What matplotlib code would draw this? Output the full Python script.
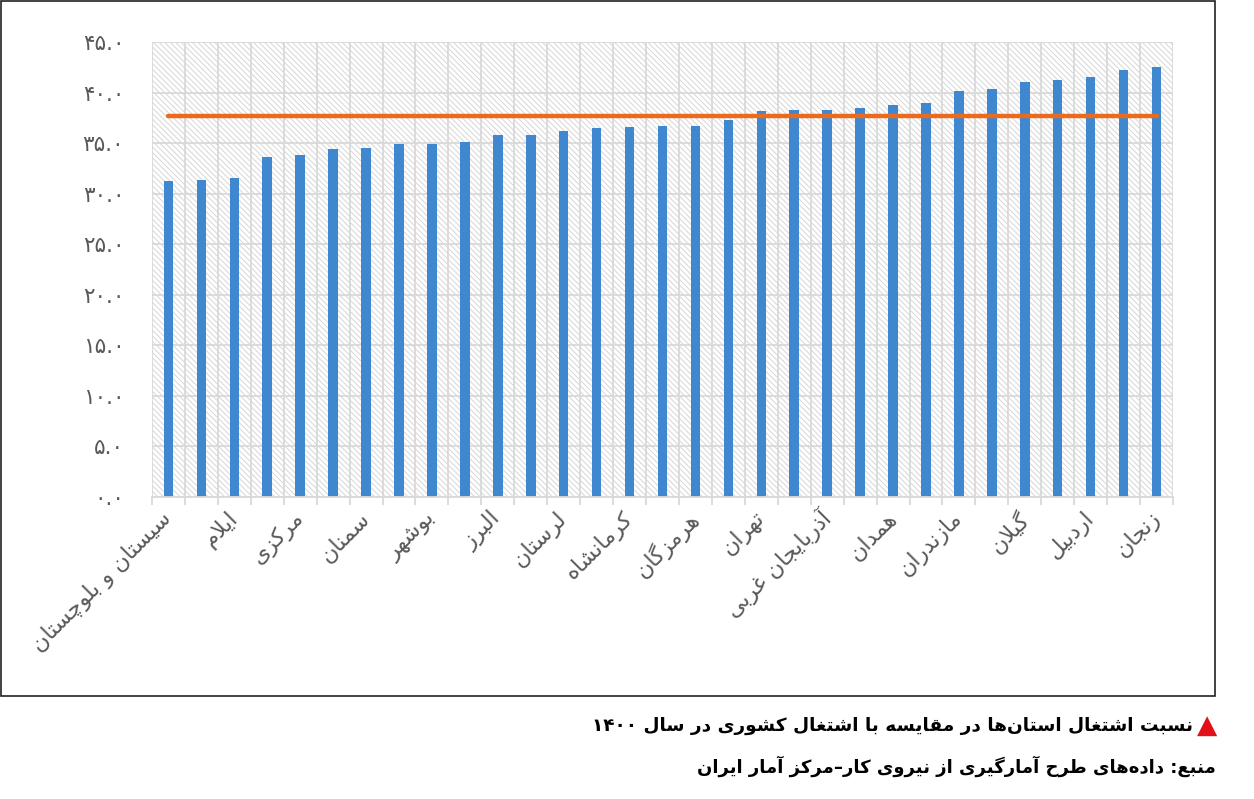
import re
import numpy as np
import matplotlib as mpl
mpl.use('Agg')
import matplotlib.pyplot as plt
from matplotlib.patches import Rectangle

# employment ratio by province (1400), sorted ascending; only every other bar is labelled in the source
provinces = ['سیستان و بلوچستان', '', 'ایلام', '', 'مرکزی', '', 'سمنان', '', 'بوشهر', '',
             'البرز', '', 'لرستان', '', 'کرمانشاه', '', 'هرمزگان', '', 'تهران', '',
             'آذربایجان غربی', '', 'همدان', '', 'مازندران', '', 'گیلان', '', 'اردبیل', '',
             'زنجان']
values = [31.3, 31.4, 31.6, 33.6, 33.8, 34.4, 34.5, 34.9, 34.9, 35.1,
          35.8, 35.8, 36.2, 36.5, 36.6, 36.7, 36.7, 37.3, 38.2, 38.3,
          38.3, 38.5, 38.8, 39.0, 40.2, 40.4, 41.0, 41.2, 41.5, 42.2,
          42.5]
national = 37.7
yticks = [0, 5, 10, 15, 20, 25, 30, 35, 40, 45]

title = 'نسبت اشتغال استان\u200cها در مقایسه با اشتغال کشوری در سال ۱۴۰۰'
source = 'منبع: داده\u200cهای طرح آمارگیری از نیروی کار–مرکز آمار ایران'

# matplotlib 3.10 does no arabic shaping, so map letters to presentation forms by hand
FORMS = {
    'ا': ('\uFE8D', '\uFE8E', None, None), 'آ': ('\uFE81', '\uFE82', None, None),
    'ب': ('\uFE8F', '\uFE90', '\uFE91', '\uFE92'), 'پ': ('\uFB56', '\uFB57', '\uFB58', '\uFB59'),
    'ت': ('\uFE95', '\uFE96', '\uFE97', '\uFE98'), 'ث': ('\uFE99', '\uFE9A', '\uFE9B', '\uFE9C'),
    'ج': ('\uFE9D', '\uFE9E', '\uFE9F', '\uFEA0'), 'چ': ('\uFB7A', '\uFB7B', '\uFB7C', '\uFB7D'),
    'ح': ('\uFEA1', '\uFEA2', '\uFEA3', '\uFEA4'), 'خ': ('\uFEA5', '\uFEA6', '\uFEA7', '\uFEA8'),
    'د': ('\uFEA9', '\uFEAA', None, None), 'ذ': ('\uFEAB', '\uFEAC', None, None),
    'ر': ('\uFEAD', '\uFEAE', None, None), 'ز': ('\uFEAF', '\uFEB0', None, None),
    'ژ': ('\uFB8A', '\uFB8B', None, None),
    'س': ('\uFEB1', '\uFEB2', '\uFEB3', '\uFEB4'), 'ش': ('\uFEB5', '\uFEB6', '\uFEB7', '\uFEB8'),
    'ص': ('\uFEB9', '\uFEBA', '\uFEBB', '\uFEBC'), 'ض': ('\uFEBD', '\uFEBE', '\uFEBF', '\uFEC0'),
    'ط': ('\uFEC1', '\uFEC2', '\uFEC3', '\uFEC4'), 'ظ': ('\uFEC5', '\uFEC6', '\uFEC7', '\uFEC8'),
    'ع': ('\uFEC9', '\uFECA', '\uFECB', '\uFECC'), 'غ': ('\uFECD', '\uFECE', '\uFECF', '\uFED0'),
    'ف': ('\uFED1', '\uFED2', '\uFED3', '\uFED4'), 'ق': ('\uFED5', '\uFED6', '\uFED7', '\uFED8'),
    'ک': ('\uFB8E', '\uFB8F', '\uFB90', '\uFB91'), 'گ': ('\uFB92', '\uFB93', '\uFB94', '\uFB95'),
    'ل': ('\uFEDD', '\uFEDE', '\uFEDF', '\uFEE0'), 'م': ('\uFEE1', '\uFEE2', '\uFEE3', '\uFEE4'),
    'ن': ('\uFEE5', '\uFEE6', '\uFEE7', '\uFEE8'), 'و': ('\uFEED', '\uFEEE', None, None),
    'ه': ('\uFEE9', '\uFEEA', '\uFEEB', '\uFEEC'), 'ی': ('\uFBFC', '\uFBFD', '\uFBFE', '\uFBFF'),
}
LAMALEF = {'ا': ('\uFEFB', '\uFEFC'), 'آ': ('\uFEF5', '\uFEF6')}


def shape(text):
    out = []
    i = 0
    while i < len(text):
        c = text[i]
        if c not in FORMS:
            out.append(c)
            i += 1
            continue
        prev = text[i - 1] if i > 0 else None
        prev_joins = prev in FORMS and FORMS[prev][2] is not None
        if c == 'ل' and i + 1 < len(text) and text[i + 1] in LAMALEF:
            out.append(LAMALEF[text[i + 1]][1 if prev_joins else 0])
            i += 2
            continue
        nxt = text[i + 1] if i + 1 < len(text) else None
        next_joins = FORMS[c][2] is not None and nxt in FORMS
        iso, fin, ini, med = FORMS[c]
        if prev_joins and next_joins:
            out.append(med)
        elif prev_joins:
            out.append(fin)
        elif next_joins:
            out.append(ini)
        else:
            out.append(iso)
        i += 1
    return ''.join(ch for ch in out if ch != '\u200c')


def rtl(text):
    s = shape(text)
    runs = re.findall(r'\d+|\D+', s)
    return ''.join(r if r[0].isdigit() else r[::-1] for r in reversed(runs))


def fa_num(v):
    return '{:.1f}'.format(v).translate(str.maketrans('0123456789', '۰۱۲۳۴۵۶۷۸۹'))


plt.rcParams['font.family'] = ['DejaVu Sans']
plt.rcParams['hatch.linewidth'] = 0.7

fig = plt.figure(figsize=(12.54, 7.99), dpi=100)
ax = fig.add_axes([0.1212, 0.378, 0.8142, 0.5694])

x = np.arange(len(values))

# hatched plot-area background
ax.add_patch(Rectangle((0, 0), 1, 1, transform=ax.transAxes, facecolor='white',
                       edgecolor='#D6D6D6', hatch='\\' * 6, lw=0, zorder=0))

ax.bar(x, values, width=0.29, color='#3F88CF', zorder=2)
ax.plot(x, np.full(len(x), national), color='#EB6A1C', lw=3.2, solid_capstyle='round', zorder=3)

ax.set_xlim(-0.5, len(values) - 0.5)
ax.set_ylim(0, 45)
ax.set_yticks(yticks)
ax.set_yticklabels([fa_num(v) for v in yticks])
ax.set_xticks(x)
ax.set_xticklabels([rtl(p) for p in provinces], rotation=45, ha='right', va='center',
                   rotation_mode='anchor')
ax.set_xticks(np.arange(len(values) + 1) - 0.5, minor=True)

ax.set_axisbelow(True)
ax.grid(axis='y', which='major', color='#D9D9D9', lw=1.3)
ax.grid(axis='x', which='minor', color='#D9D9D9', lw=1.3)

for s in ['top', 'right', 'left']:
    ax.spines[s].set_visible(False)
ax.spines['bottom'].set_color('#D9D9D9')
ax.spines['bottom'].set_linewidth(1.3)

ax.tick_params(axis='y', length=0, pad=20, labelsize=15.5, labelcolor='#595959')
ax.tick_params(axis='x', which='major', length=0, pad=13, labelsize=16, labelcolor='#595959')
ax.tick_params(axis='x', which='minor', length=6, width=1.3, color='#D9D9D9')

# black frame round the chart
fig.patches.append(Rectangle((1 / 1254, 103 / 799), 1214 / 1254, 695 / 799,
                             transform=fig.transFigure, fill=False, edgecolor='#222222', lw=1.2))

fig.text(1193 / 1254, 1 - 726 / 799, rtl(title), ha='right', va='center', fontsize=13.3,
         fontweight='bold', color='black')
fig.text(1217 / 1254, 1 - 726 / 799, '▲', ha='right', va='center', fontsize=19, color='#E3101A')
fig.text(1216 / 1254, 1 - 766 / 799, rtl(source), ha='right', va='center', fontsize=13,
         fontweight='bold', color='black')

plt.savefig('out.png', dpi=100)
